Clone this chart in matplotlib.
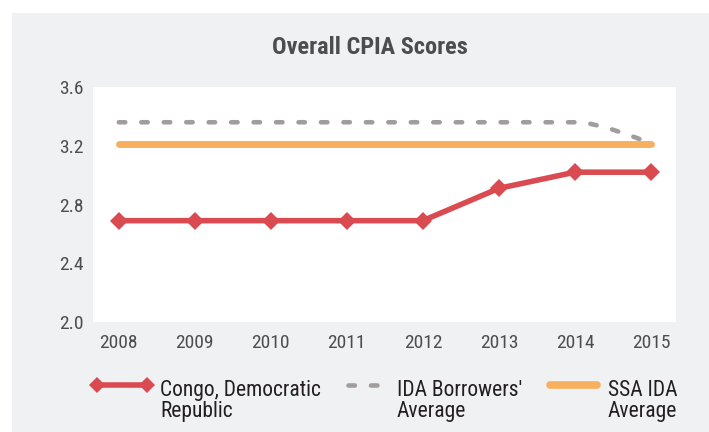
import matplotlib
matplotlib.use("Agg")
import matplotlib.pyplot as plt
from matplotlib.lines import Line2D
from matplotlib.patches import Rectangle, PathPatch
from matplotlib.path import Path
import numpy as np

years = ["2008", "2009", "2010", "2011", "2012", "2013", "2014", "2015"]
congo = [2.69, 2.69, 2.69, 2.69, 2.69, 2.91, 3.02, 3.02]
ida_borrowers = [3.36, 3.36, 3.36, 3.36, 3.36, 3.36, 3.36, 3.22]
ssa_ida = [3.21, 3.21, 3.21, 3.21, 3.21, 3.21, 3.21, 3.21]
yticks = [2.0, 2.4, 2.8, 3.2, 3.6]
labels = ["Congo, Democratic\nRepublic", "IDA Borrowers'\nAverage", "SSA IDA\nAverage"]
title = "Overall CPIA Scores"

RED = "#d94b50"
GRAY = "#a09d9c"
ORANGE = "#f9b05e"
BG = "#f0f1f3"
TXT = "#4d4d4f"
LEG = "#231f20"
FONT = ["Roboto Condensed", "DejaVu Sans"]
plt.rcParams["font.family"] = FONT

fig = plt.figure(figsize=(7.09, 4.32), dpi=100)
fig.patch.set_facecolor("white")
fig.add_artist(Rectangle((12 / 709, 0), 1 - 12 / 709, 1 - 13 / 432,
                         transform=fig.transFigure, facecolor=BG,
                         edgecolor="none", zorder=-10))

ax = fig.add_axes([93 / 709, 1 - 322 / 432, (676 - 93) / 709, (322 - 87) / 432])
ax.set_facecolor("white")
for s in ax.spines.values():
    s.set_visible(False)

x = np.arange(len(years))

# smooth dashed line for IDA Borrowers (Catmull-Rom -> Bezier)
pts = np.column_stack([x, ida_borrowers]).astype(float)
verts = [tuple(pts[0])]
codes = [Path.MOVETO]
n = len(pts)
for i in range(n - 1):
    p0 = pts[max(i - 1, 0)]
    p1 = pts[i]
    p2 = pts[i + 1]
    p3 = pts[min(i + 2, n - 1)]
    c1 = p1 + (p2 - p0) / 6.0
    c2 = p2 - (p3 - p1) / 6.0
    if i == n - 2:
        c1 = np.array([c1[0], p1[1]])
    if i == n - 3:
        c2 = np.array([c2[0], p2[1]])
    verts += [tuple(c1), tuple(c2), tuple(p2)]
    codes += [Path.CURVE4] * 3
ida_patch = PathPatch(Path(verts, codes), fill=False, edgecolor=GRAY,
                      linewidth=3.3, linestyle=(0, (1.4, 3.5)),
                      capstyle="round", zorder=2)
ax.add_patch(ida_patch)

ax.plot(x, ssa_ida, color=ORANGE, linewidth=5.0, solid_capstyle="round", zorder=3)
ax.plot(x, congo, color=RED, linewidth=4.0, marker="D", markersize=9.5,
        markeredgewidth=0, zorder=4)

ax.set_xlim(-0.34, 7.33)
ax.set_ylim(2.0, 3.6)
ax.set_yticks(yticks)
ax.set_yticklabels([f"{v:.1f}" for v in yticks])
ax.set_xticks(x)
ax.set_xticklabels(years)
ax.tick_params(axis="both", length=0, labelsize=14, labelcolor=TXT)
ax.tick_params(axis="y", pad=7)
ax.tick_params(axis="x", pad=9)

fig.text(370 / 709, 1 - 54.5 / 432, title, ha="center", va="baseline",
         fontsize=17.5, fontweight="bold", color=TXT)

# legend
ly = 1 - 385 / 432
handles = [
    dict(x0=97, x1=147, color=RED, lw=4.0, marker="D", ms=8, ls="-", tx=160),
    dict(x0=348, x1=386, color=GRAY, lw=3.3, marker=None, ms=0, ls=(0, (1.4, 3.5)), tx=397),
    dict(x0=550, x1=597, color=ORANGE, lw=5.5, marker=None, ms=0, ls="-", tx=608),
]
for h, lab in zip(handles, labels):
    ln = Line2D([h["x0"] / 709, h["x1"] / 709], [ly, ly], transform=fig.transFigure,
                color=h["color"], linewidth=h["lw"], linestyle=h["ls"],
                marker=h["marker"], markersize=h["ms"], markeredgewidth=0,
                solid_capstyle="round", dash_capstyle="round")
    fig.add_artist(ln)
    fig.text(h["tx"] / 709, 1 - 417.5 / 432, lab, ha="left", va="baseline",
             fontsize=15.5, color=LEG, linespacing=1.02)

fig.savefig("out.png", dpi=100, facecolor=fig.get_facecolor())
